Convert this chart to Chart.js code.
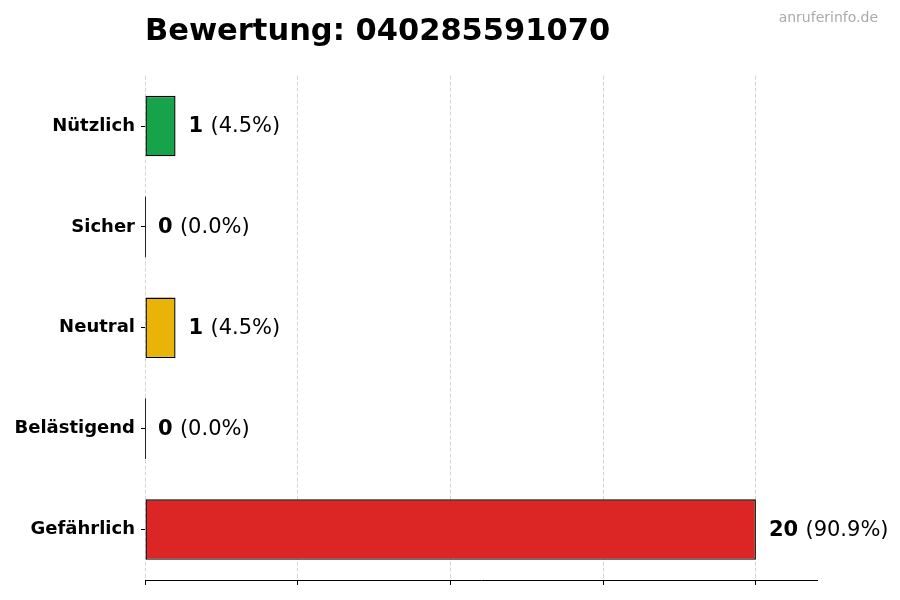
<!DOCTYPE html>
<html>
<head>
<meta charset="utf-8">
<script src="https://cdn.jsdelivr.net/npm/chart.js@4/dist/chart.umd.min.js"></script>
<style>
  body { margin: 0; background: #fff; }
</style>
</head>
<body>
<canvas id="bewertung" width="900" height="600"></canvas>
<script>
// chart data
var kategorien = ['Nützlich', 'Sicher', 'Neutral', 'Belästigend', 'Gefährlich'];
var anzahl = [1, 0, 1, 0, 20];
var farben = ['#16a34a', '#9ca3af', '#eab308', '#f97316', '#dc2626'];
var xTicks = [0, 5, 10, 15, 20];
var titel = 'Bewertung: 040285591070';
var quelle = 'anruferinfo.de';

var gesamt = anzahl.reduce(function (a, b) { return a + b; }, 0);

//draws "n (x%)" after each bar, plus the thin edge of zero bars
var wertLabels = {
  id: 'wertLabels',
  afterDatasetsDraw: function (chart) {
    var ctx = chart.ctx;
    var meta = chart.getDatasetMeta(0);
    ctx.save();
    meta.data.forEach(function (bar, i) {
      var wert = anzahl[i];
      var props = bar.getProps(['x', 'y', 'base', 'height'], true);
      if (wert === 0) {
        ctx.strokeStyle = '#222';
        ctx.lineWidth = 1;
        ctx.beginPath();
        ctx.moveTo(Math.round(props.base) + 0.5, props.y - props.height / 2);
        ctx.lineTo(Math.round(props.base) + 0.5, props.y + props.height / 2);
        ctx.stroke();
      }
      var x = props.x + 13;
      ctx.textBaseline = 'middle';
      ctx.textAlign = 'left';
      ctx.fillStyle = '#000';
      ctx.font = 'bold 21px "DejaVu Sans"';
      var nr = String(wert);
      ctx.fillText(nr, x, props.y + 1);
      var w = ctx.measureText(nr + ' ').width;
      ctx.font = '21px "DejaVu Sans"';
      var pct = gesamt ? (wert / gesamt * 100) : 0;
      ctx.fillText('(' + pct.toFixed(1) + '%)', x + w, props.y + 1);
    });
    ctx.restore();
  }
};

//watermark in the top right corner
var wasserzeichen = {
  id: 'wasserzeichen',
  afterDraw: function (chart) {
    var ctx = chart.ctx;
    ctx.save();
    ctx.font = '14px "DejaVu Sans"';
    ctx.fillStyle = '#aaaaaa';
    ctx.textAlign = 'right';
    ctx.textBaseline = 'middle';
    ctx.fillText(quelle, 878, 18);
    ctx.restore();
  }
};

var ctx = document.getElementById('bewertung').getContext('2d');
var chart = new Chart(ctx, {
  type: 'bar',
  data: {
    labels: kategorien,
    datasets: [{
      data: anzahl,
      backgroundColor: farben,
      borderColor: '#000',
      borderWidth: 1.4,
      borderSkipped: false,
      barPercentage: 0.6,
      categoryPercentage: 1.0
    }]
  },
  options: {
    indexAxis: 'y',
    responsive: false,
    animation: false,
    devicePixelRatio: 1,
    layout: { padding: { top: 0, right: 83, bottom: 15, left: 0 } },
    plugins: {
      legend: { display: false },
      tooltip: { enabled: false },
      title: {
        display: true,
        text: titel,
        align: 'start',
        fullSize: false,
        color: '#000',
        font: { family: 'DejaVu Sans', size: 30.5, weight: 'bold' },
        lineHeight: 1.2,
        padding: { top: 14, bottom: 25 }
      }
    },
    scales: {
      x: {
        min: 0,
        max: 22,
        z: 1,
        afterBuildTicks: function (scale) {
          scale.ticks = xTicks.map(function (v) { return { value: v }; });
        },
        ticks: { display: false },
        grid: {
          color: '#d4d4d4',
          lineWidth: 1,
          tickColor: '#000',
          tickLength: 5,
          tickWidth: 1
        },
        border: { display: true, color: '#000', width: 1, dash: [4, 2] }
      },
      y: {
        afterFit: function (scale) { scale.width = 145; },
        ticks: {
          color: '#000',
          padding: 6,
          font: { family: 'DejaVu Sans', size: 18, weight: 'bold' }
        },
        grid: {
          display: true,
          drawOnChartArea: false,
          offset: false,
          tickColor: '#000',
          tickLength: 4
        },
        border: { display: false }
      }
    }
  },
  plugins: [wertLabels, wasserzeichen]
});
</script>
</body>
</html>
